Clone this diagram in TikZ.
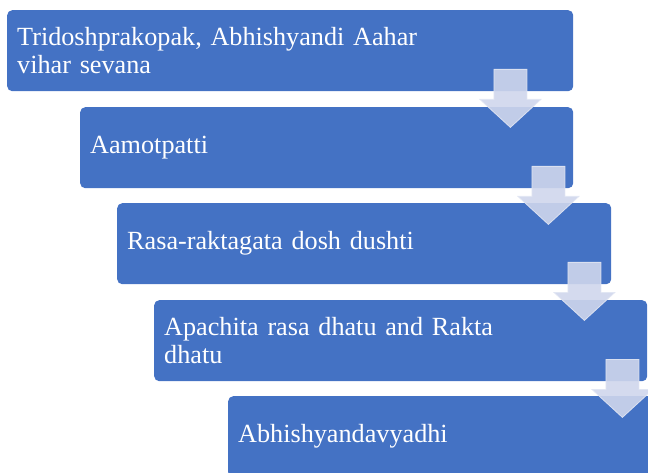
\documentclass[tikz,border=0pt]{standalone}
\usepackage{fontspec}
\setmainfont{Liberation Serif}
\usetikzlibrary{calc}

\definecolor{boxblue}{RGB}{68,114,196}
\definecolor{arrowtint}{RGB}{207,214,236}
\definecolor{arrowedge}{RGB}{226,230,243}
\newcommand\stagefont{\fontsize{26.2}{27.5}\selectfont}

\tikzset{
  stagebox/.style={fill=boxblue, rounded corners=5pt, anchor=north west,
    minimum height=81pt, inner xsep=10pt, inner ysep=0pt,
    text=white, align=left, font=\stagefont, text width=#1},
  flowarrow/.pic={
    \filldraw[fill=arrowtint, draw=arrowedge, line width=0.8pt, fill opacity=0.9, draw opacity=0.9]
      (-16.5,0) -- (16.5,0) -- (16.5,30) -- (30.5,30) -- (0,58)
      -- (-30.5,30) -- (-16.5,30) -- cycle;
  }
}

\begin{document}
\begin{tikzpicture}[x=1pt,y=-1pt]

\useasboundingbox (0,0) rectangle (648,473);
\clip (0,0) rectangle (648,473);

% the five stages, each one shifted to the right
\node[stagebox=546pt] (b1) at (7,10) {Tridoshprakopak, Abhishyandi Aahar\\vihar sevana};
\node[stagebox=473pt] (b2) at (80,107) {Aamotpatti};
\node[stagebox=474pt] (b3) at (117,203) {Rasa-raktagata dosh dushti};
\node[stagebox=473pt] (b4) at (154,300) {Apachita rasa dhatu and Rakta\\dhatu};
\node[stagebox=437pt] (b5) at (228,396) {Abhishyandavyadhi};

% arrows from each stage down to the next one
\foreach \a/\b in {b1/b2,b2/b3,b3/b4,b4/b5}
\pic at ($(\a.south -| \b.east)+(-63,-22)$) {flowarrow};

\end{tikzpicture}
\end{document}
